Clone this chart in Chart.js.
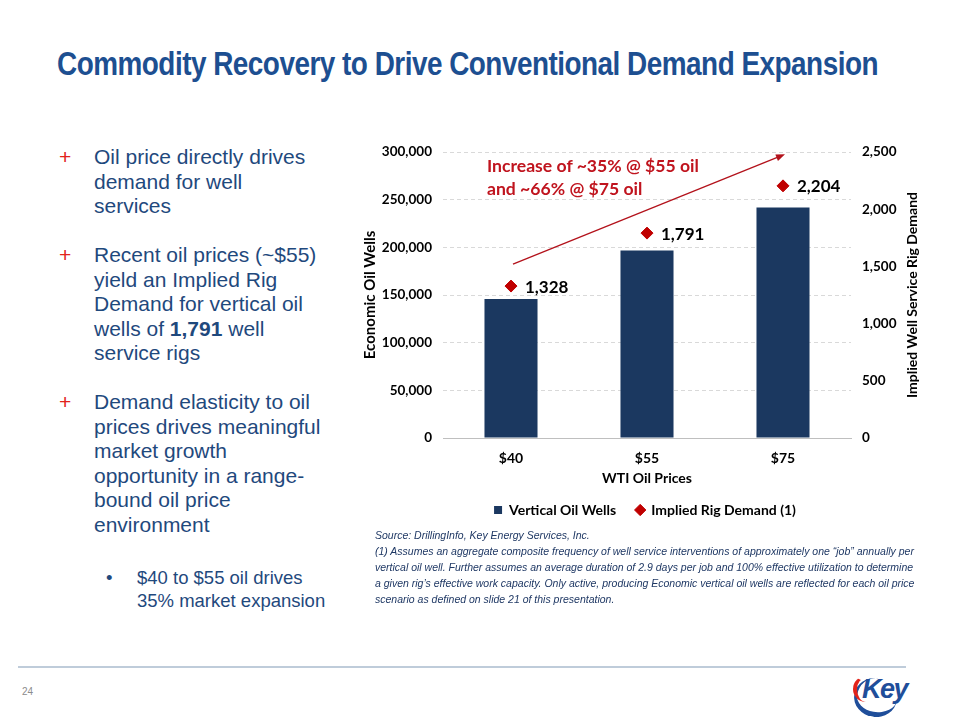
<!DOCTYPE html>
<html><head><meta charset="utf-8">
<script src="https://cdn.jsdelivr.net/npm/chart.js@4/dist/chart.umd.min.js"></script>
<style>
body{margin:0;background:#fff;}
#slide{position:relative;width:960px;height:720px;overflow:hidden;background:#fff;font-family:"Liberation Sans",Arial,sans-serif;}
#title{position:absolute;left:57px;top:45px;font-weight:bold;font-size:33px;color:#1D4F91;white-space:nowrap;transform-origin:0 0;letter-spacing:-0.6px;}
.bul{position:absolute;left:94px;font-size:21px;line-height:24.5px;color:#1F497D;white-space:nowrap;}
.plus{position:absolute;left:-35px;top:0;color:#E2231A;font-size:21px;}
.sub{position:absolute;left:137px;font-size:18.5px;line-height:23px;color:#1F497D;white-space:nowrap;}
.dot{position:absolute;left:-31px;top:0;}
#chartBox{position:absolute;left:350px;top:130px;width:590px;height:400px;}
#annot{position:absolute;left:487px;top:154px;font-family:Lato,sans-serif;font-weight:bold;font-size:17.6px;line-height:23px;color:#C0141E;white-space:nowrap;}
#foot{position:absolute;left:375px;top:527px;font-size:10.5px;line-height:16px;font-style:italic;color:#1F3864;white-space:nowrap;}
#rule{position:absolute;left:18px;top:666px;width:888px;height:1.5px;background:#BFCCDA;}
#pnum{position:absolute;left:22px;top:686px;font-size:10px;color:#8C8C8C;}
#logo{position:absolute;left:848px;top:672px;width:64px;height:44px;}
</style></head>
<body>
<div id="slide">
  <div id="title">Commodity Recovery to Drive Conventional Demand Expansion</div>

  <div class="bul" style="top:145px"><span class="plus">+</span>Oil price directly drives<br>demand for well<br>services</div>
  <div class="bul" style="top:243px"><span class="plus">+</span>Recent oil prices (~$55)<br>yield an Implied Rig<br>Demand for vertical oil<br>wells of <b>1,791</b> well<br>service rigs</div>
  <div class="bul" style="top:390px"><span class="plus">+</span>Demand elasticity to oil<br>prices drives meaningful<br>market growth<br>opportunity in a range-<br>bound oil price<br>environment</div>
  <div class="sub" style="top:566px"><span class="dot">•</span>$40 to $55 oil drives<br>35% market expansion</div>

  <div id="chartBox"><canvas id="c" width="590" height="400"></canvas></div>
  <div id="annot">Increase of ~35% @ $55 oil<br>and ~66% @ $75 oil</div>

  <div id="foot">Source: DrillingInfo, Key Energy Services, Inc.<br>(1) Assumes an aggregate composite frequency of well service interventions of approximately one “job” annually per<br>vertical oil well. Further assumes an average duration of 2.9 days per job and 100% effective utilization to determine<br>a given rig’s effective work capacity. Only active, producing Economic vertical oil wells are reflected for each oil price<br>scenario as defined on slide 21 of this presentation.</div>

  <div id="rule"></div>
  <div id="pnum">24</div>
  <div id="logo">
    <div style="position:absolute;left:6px;top:6px;width:40px;height:34px;border-radius:50%;border-bottom:5px solid #1F4E9A;border-left:3px solid #1F4E9A;transform:rotate(8deg);"></div>
    <div style="position:absolute;left:5px;top:4px;width:22px;height:24px;border-radius:50%;border-left:4px solid #E2231A;border-top:2px solid transparent;"></div>
    <div style="position:absolute;left:14px;top:2px;font-family:'Liberation Sans',Arial,sans-serif;font-style:italic;font-weight:bold;font-size:27px;letter-spacing:-1.5px;color:#1F4E9A;">Key</div>
  </div>
</div>
<script>
const categories = ['$40', '$55', '$75'];
const verticalOilWells = [145800, 196600, 241900];
const impliedRigDemand = [1328, 1791, 2204];
const trendArrow = [{cat: 0, value: 1520}, {cat: 2, value: 2480}];

// fit title width like the original narrow font
(function(){
  const t = document.getElementById('title');
  const w = t.getBoundingClientRect().width;
  t.style.transform = 'scaleX(' + (821 / w) + ')';
})();

const fmt = v => Number(v).toLocaleString('en-US');
const F = 'Lato, "Open Sans", sans-serif';

const labelPlugin = {
  id: 'labels',
  afterDatasetsDraw(chart) {
    const ctx = chart.ctx;
    const meta = chart.getDatasetMeta(1);
    ctx.save();
    ctx.font = 'bold 17px ' + F;
    ctx.fillStyle = '#000';
    ctx.textBaseline = 'middle';
    ctx.textAlign = 'left';
    meta.data.forEach((pt, i) => ctx.fillText(fmt(impliedRigDemand[i]), pt.x + 14, pt.y + 1));
    // trend arrow
    const x = chart.scales.x, y1 = chart.scales.y1;
    const x0 = x.getPixelForValue(trendArrow[0].cat) + 2, y0 = y1.getPixelForValue(trendArrow[0].value);
    const xe = x.getPixelForValue(trendArrow[1].cat) + 2, ye = y1.getPixelForValue(trendArrow[1].value);
    const ang = Math.atan2(ye - y0, xe - x0);
    ctx.strokeStyle = '#B3121B';
    ctx.fillStyle = '#B3121B';
    ctx.lineWidth = 1.3;
    ctx.beginPath();
    ctx.moveTo(x0, y0);
    ctx.lineTo(xe - 7 * Math.cos(ang), ye - 7 * Math.sin(ang));
    ctx.stroke();
    ctx.beginPath();
    ctx.moveTo(xe, ye);
    ctx.lineTo(xe - 9 * Math.cos(ang) + 3.5 * Math.sin(ang), ye - 9 * Math.sin(ang) - 3.5 * Math.cos(ang));
    ctx.lineTo(xe - 9 * Math.cos(ang) - 3.5 * Math.sin(ang), ye - 9 * Math.sin(ang) + 3.5 * Math.cos(ang));
    ctx.closePath();
    ctx.fill();
    // right axis title (reads bottom to top)
    const s = chart.scales.y1;
    ctx.translate(562, (s.top + s.bottom) / 2);
    ctx.rotate(-Math.PI / 2);
    ctx.font = 'bold 14px ' + F;
    ctx.fillStyle = '#000';
    ctx.textAlign = 'center';
    ctx.fillText('Implied Well Service Rig Demand', 0, 0);
    ctx.restore();
  }
};

new Chart(document.getElementById('c'), {
  type: 'bar',
  data: {
    labels: categories,
    datasets: [
      {
        label: 'Vertical Oil Wells',
        data: verticalOilWells,
        backgroundColor: '#1B3860',
        yAxisID: 'y',
        barPercentage: 0.39,
        categoryPercentage: 1,
        pointStyle: 'rect',
        order: 2
      },
      {
        type: 'line',
        label: 'Implied Rig Demand (1)',
        data: impliedRigDemand,
        yAxisID: 'y1',
        showLine: false,
        pointStyle: 'rectRot',
        pointRadius: 6,
        pointHoverRadius: 6,
        pointBackgroundColor: '#C00000',
        pointBorderColor: '#C00000',
        backgroundColor: '#C00000',
        borderColor: '#C00000',
        order: 1
      }
    ]
  },
  options: {
    responsive: false,
    animation: false,
    events: [],
    layout: { padding: { top: 22, bottom: 3, left: 0, right: 0 } },
    plugins: {
      tooltip: { enabled: false },
      legend: {
        position: 'bottom',
        labels: {
          usePointStyle: true,
          boxWidth: 8,
          boxHeight: 8,
          padding: 20,
          color: '#000',
          sort: (a, b) => a.datasetIndex - b.datasetIndex,
          font: { family: F, size: 14, weight: 'bold' }
        }
      }
    },
    scales: {
      x: {
        grid: { display: false },
        border: { display: true, color: '#BFBFBF', width: 1 },
        ticks: { color: '#000', padding: 4, font: { family: F, size: 14, weight: 'bold' } },
        title: { display: true, text: 'WTI Oil Prices', color: '#000', padding: { top: 0, bottom: -3.5 }, font: { family: F, size: 14, weight: 'bold' } },
        afterFit(s) { s.height = 45; }
      },
      y: {
        position: 'left',
        min: 0, max: 300000,
        ticks: { stepSize: 50000, color: '#000', padding: 11, callback: v => fmt(v), font: { family: F, size: 13.5, weight: 'bold' } },
        grid: { color: '#D9D9D9', drawTicks: false },
        border: { display: false, dash: [4, 3] },
        title: { display: true, text: 'Economic Oil Wells', color: '#000', padding: { top: 11.6, bottom: 0 }, font: { family: F, size: 15, weight: 'bold' } },
        afterFit(s) { s.width = 93; }
      },
      y1: {
        position: 'right',
        min: 0, max: 2500,
        ticks: { stepSize: 500, color: '#000', padding: 11, callback: v => fmt(v), font: { family: F, size: 13.5, weight: 'bold' } },
        grid: { drawOnChartArea: false, drawTicks: false },
        border: { display: false },
        afterFit(s) { s.width = 89; }
      }
    }
  },
  plugins: [labelPlugin]
});
</script>
</body></html>
